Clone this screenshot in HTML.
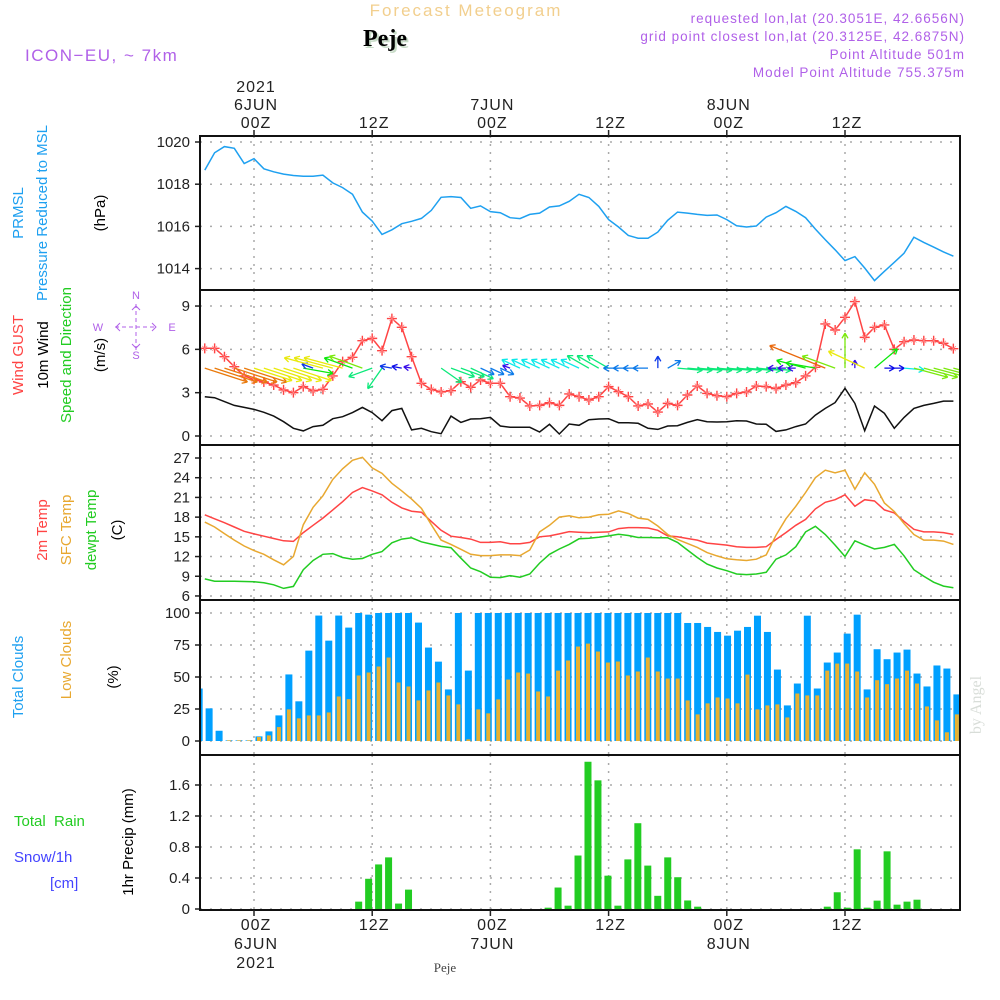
<!DOCTYPE html>
<html><head><meta charset="utf-8"><style>
body{margin:0;background:#fff;}
svg{display:block;font-family:"Liberation Sans",sans-serif;}
</style></head><body>
<svg id="chart" width="1000" height="1000" viewBox="0 0 1000 1000" xmlns="http://www.w3.org/2000/svg">
<defs><clipPath id="plotclip"><rect x="200" y="136" width="760" height="774"/></clipPath></defs>
<rect width="1000" height="1000" fill="#fff"/>
<text x="466" y="16" text-anchor="middle" font-size="17" fill="#f2cf8e" letter-spacing="2">Forecast Meteogram</text>
<text x="387" y="48" text-anchor="middle" font-size="24" font-weight="bold" font-family="Liberation Serif,serif" fill="#c8dcc8">Peje</text>
<text x="385" y="46" text-anchor="middle" font-size="24" font-weight="bold" font-family="Liberation Serif,serif" fill="#000">Peje</text>
<text x="25" y="61" font-size="17" fill="#b060e8" letter-spacing="1.5">ICON−EU, ~ 7km</text>
<g font-size="13.5" fill="#b060e8" text-anchor="end" letter-spacing="1">
<text x="965" y="23">requested lon,lat (20.3051E, 42.6656N)</text>
<text x="965" y="41">grid point closest lon,lat (20.3125E, 42.6875N)</text>
<text x="965" y="59">Point Altitude 501m</text>
<text x="965" y="77">Model Point Altitude 755.375m</text>
</g>
<g id="grid"></g>
<g id="marks" clip-path="url(#plotclip)"></g>
<g id="frames"></g>
<g id="labels"></g>
<g font-size="15">
<text transform="translate(23,213) rotate(-90)" text-anchor="middle" fill="#1ea0f0">PRMSL</text>
<text transform="translate(47,213) rotate(-90)" text-anchor="middle" fill="#1ea0f0">Pressure Reduced to MSL</text>
<text transform="translate(105,213) rotate(-90)" text-anchor="middle" fill="#000">(hPa)</text>
<text transform="translate(23,355) rotate(-90)" text-anchor="middle" fill="#ff4444">Wind GUST</text>
<text transform="translate(48,355) rotate(-90)" text-anchor="middle" fill="#000">10m Wind</text>
<text transform="translate(71,355) rotate(-90)" text-anchor="middle" fill="#22cc22">Speed and Direction</text>
<text transform="translate(105,355) rotate(-90)" text-anchor="middle" fill="#000">(m/s)</text>
<text transform="translate(47,530) rotate(-90)" text-anchor="middle" fill="#ff4444">2m Temp</text>
<text transform="translate(71,530) rotate(-90)" text-anchor="middle" fill="#e8a830">SFC Temp</text>
<text transform="translate(96,530) rotate(-90)" text-anchor="middle" fill="#22cc22">dewpt Temp</text>
<text transform="translate(122,530) rotate(-90)" text-anchor="middle" fill="#000">(C)</text>
<text transform="translate(23,677) rotate(-90)" text-anchor="middle" fill="#1ea0f0">Total Clouds</text>
<text transform="translate(71,660) rotate(-90)" text-anchor="middle" fill="#e8a830">Low Clouds</text>
<text transform="translate(118,677) rotate(-90)" text-anchor="middle" fill="#000">(%)</text>
<text x="14" y="826" fill="#22cc22" xml:space="preserve">Total  Rain</text>
<text x="14" y="862" fill="#4444ff">Snow/1h</text>
<text x="50" y="888" fill="#4444ff">[cm]</text>
<text transform="translate(133,842) rotate(-90)" text-anchor="middle" fill="#000">1hr Precip (mm)</text>
</g>
<g font-size="11" fill="#b060e8" text-anchor="middle">
<text x="136" y="299">N</text>
<text x="136" y="359">S</text>
<text x="98" y="331">W</text>
<text x="172" y="331">E</text>
<g stroke="#b060e8" stroke-width="1" fill="none">
<line x1="115" y1="327" x2="157" y2="327" stroke-dasharray="4,3"/>
<line x1="136" y1="304" x2="136" y2="350" stroke-dasharray="4,3"/>
<path d="M120,323l-4,4l4,4M152,323l4,4l-4,4M132,310l4,-4l4,4M132,344l4,4l4,-4"/>
</g>
</g>
<text transform="translate(981,705) rotate(-90)" text-anchor="middle" font-size="16" font-family="Liberation Serif,serif" fill="#d8ddd8">by Angel</text>
<text x="445" y="972" text-anchor="middle" font-size="13" font-family="Liberation Serif,serif" fill="#444">Peje</text>
<script>
const hours=[];for(let h=-5;h<=71;h++)hours.push(h);
const pressure=[1018.67,1019.49,1019.78,1019.70,1018.98,1019.21,1018.73,1018.59,1018.48,1018.41,1018.38,1018.38,1018.43,1018.06,1017.84,1017.52,1016.68,1016.25,1015.62,1015.84,1016.13,1016.24,1016.38,1016.76,1017.38,1017.41,1017.37,1016.86,1016.97,1016.70,1016.65,1016.41,1016.37,1016.57,1016.63,1016.92,1016.97,1017.19,1017.52,1017.37,1016.95,1016.32,1015.97,1015.57,1015.44,1015.44,1015.73,1016.29,1016.68,1016.63,1016.57,1016.52,1016.54,1016.32,1016.03,1015.97,1016.02,1016.44,1016.65,1016.95,1016.71,1016.41,1015.87,1015.37,1014.89,1014.38,1014.57,1014.03,1013.43,1013.87,1014.30,1014.73,1015.49,1015.24,1015.02,1014.79,1014.59];
const wind10m=[2.72,2.65,2.38,2.12,1.98,1.84,1.64,1.38,0.99,0.53,0.35,0.65,0.74,1.20,1.34,1.62,1.98,1.62,1.06,1.76,1.91,0.42,0.53,0.30,0.16,1.38,0.94,1.18,1.20,1.29,0.69,0.60,0.60,0.60,0.28,0.81,0.14,0.83,0.74,1.13,1.18,1.20,0.92,0.92,0.88,0.53,0.46,0.69,0.71,0.94,1.13,0.99,0.97,0.99,1.06,1.04,0.83,0.81,0.32,0.42,0.65,0.83,1.45,1.91,2.31,3.30,2.26,0.37,2.08,1.57,0.53,1.29,1.91,2.12,2.26,2.42,2.42];
const windGust=[6.07,6.07,5.49,4.80,4.16,3.92,3.74,3.53,3.19,3.00,3.42,3.12,3.23,4.16,5.15,5.45,6.60,6.76,5.91,8.13,7.53,5.49,3.65,3.23,3.05,3.14,3.76,3.37,3.88,3.65,3.65,2.72,2.63,2.08,2.12,2.31,2.12,2.91,2.72,2.49,2.72,3.42,3.07,2.72,2.08,2.22,1.66,2.26,2.12,2.84,3.46,2.95,2.79,2.72,2.95,3.05,3.46,3.42,3.28,3.53,3.69,4.16,4.76,7.76,7.34,8.22,9.31,6.83,7.53,7.69,6.00,6.53,6.65,6.60,6.60,6.42,6.05];
const windToDir=[18,18,18,18,18,18,18,18,18,18,10,200,195,195,195,200,200,160,125,190,190,190,0,0,35,20,20,25,25,25,25,200,205,205,205,205,205,205,205,210,210,210,180,180,180,180,270,330,5,5,5,5,5,5,5,5,5,5,180,180,180,195,190,202,200,270,270,205,320,0,0,5,15,15,15,15,15];
const windArrowMag=[45,45,45,45,45,40,40,40,40,40,30,12,40,40,40,30,35,25,25,12,10,8,0,0,25,25,25,25,15,15,15,8,20,20,20,20,20,20,20,25,25,25,15,15,15,15,12,15,25,25,25,25,25,25,25,25,25,25,8,8,8,30,30,60,35,35,8,40,30,10,10,20,35,35,35,35,35];
const temp2m=[18.35,17.75,17.15,16.5,15.85,15.45,15.1,14.75,14.4,14.3,15.65,16.75,17.85,19.1,20.35,21.75,22.5,22.0,21.4,20.25,19.4,18.9,18.75,17.35,16.0,15.1,14.9,14.65,14.15,14.15,14.25,13.95,13.95,14.15,15.0,15.15,15.45,15.8,15.7,15.65,15.7,15.75,16.25,16.4,16.4,16.35,16.0,15.15,15.0,14.75,14.5,14.05,13.9,13.75,13.5,13.4,13.4,13.5,14.6,15.65,16.75,17.65,19.25,20.25,20.65,21.4,19.65,20.65,20.45,19.1,18.65,17.35,16.15,15.75,15.75,15.65,15.35];
const tempSfc=[17.25,16.5,15.5,14.5,13.6,12.9,12.35,11.5,10.75,12.0,16.85,19.5,21.25,23.75,25.35,26.65,27.1,25.5,24.65,23.15,22.0,20.75,19.35,16.85,14.5,13.85,13.1,12.35,12.15,12.15,12.25,12.25,12.15,13.0,15.75,16.75,18.0,18.2,17.9,18.0,18.35,18.45,18.95,18.55,17.85,17.65,16.65,15.35,14.6,14.0,13.4,12.6,12.1,11.65,11.5,11.4,11.6,12.25,15.25,17.75,19.65,21.75,24.0,25.15,24.75,25.15,22.25,24.75,23.0,20.15,18.85,17.0,15.35,14.5,14.5,14.35,13.85];
const dewpoint=[8.6,8.25,8.25,8.25,8.2,8.15,8.0,7.7,7.15,7.45,10.0,11.4,12.35,12.45,11.85,11.6,11.7,12.35,12.75,14.1,14.65,14.85,14.25,13.9,13.55,13.35,11.75,10.25,9.7,8.85,8.8,9.1,8.85,9.35,11.0,12.35,13.15,13.85,14.7,14.8,14.95,15.15,15.4,15.2,14.9,14.9,14.85,14.85,14.15,13.0,11.85,10.85,10.25,9.85,9.35,9.25,9.35,9.6,11.6,12.25,13.5,15.75,16.6,15.35,13.75,12.0,14.4,13.75,13.15,13.4,13.85,12.1,10.0,9.0,8.1,7.5,7.25];
const totalClouds=[41,25.5,8,0.5,0.5,0.5,3.6,7.5,20,52,31,70.6,98,78.4,98,88.6,100,98.7,100,100,100,100,92.5,73,62,40.3,100,55,100,100,100,100,100,100,100,100,100,100,100,100,100,100,100,100,100,100,100,100,100,92.2,92.2,89.1,85.2,82.3,86.2,89.1,97.9,85.2,55.8,27.8,44.9,97.9,41,61.3,69.1,83.9,98.7,40.3,71.7,63.9,69.1,71.4,52.7,42.6,59,56.6,36.4];
const lowClouds=[0,0,0,0.5,0.5,0.5,3.1,4.4,10.9,24.7,17.7,20,20,22.3,34.8,32.7,51.2,53.5,58.2,65.2,45.7,42.6,31.7,39.5,45.7,35.6,28.6,1.3,24.7,21.6,32.5,48,53.5,52.7,38.7,34.8,55,62.9,73.8,76.1,69.9,61.3,62.1,51.2,54.3,65.2,54.3,48.8,48.8,31.7,20.8,29.4,34,33.2,29.4,51.9,24.7,27.8,28.6,18.4,37.1,35.6,35.6,55,60.5,60.5,54.3,34,47.5,44.4,48.8,55,44.9,27,16.1,6.8,20.8];
const precip=[0,0,0,0,0,0,0,0,0,0,0,0,0,0,0,0,0.095,0.39,0.575,0.666,0.07,0.25,0,0,0,0,0,0,0,0,0,0,0,0,0,0.017,0.277,0.043,0.69,1.90,1.66,0.43,0.043,0.64,1.107,0.56,0.17,0.666,0.41,0.11,0.03,0,0,0,0,0,0,0,0,0,0,0,0,0.03,0.216,0.017,0.77,0.017,0.108,0.744,0.056,0.095,0.12,0,0,0,0];
const pressureTicks=[1014,1016,1018,1020];
const windTicks=[0,3,6,9];
const tempTicks=[6,9,12,15,18,21,24,27];
const cloudTicks=[0,25,50,75,100];
const precipTicks=[0,0.4,0.8,1.2,1.6];
const timeTicks=[0,12,24,36,48,60];
const timeLabels=["00Z","12Z","00Z","12Z","00Z","12Z"];
const dayLabels=["6JUN","","7JUN","","8JUN",""];
const yearLabels=["2021","","","","",""];

const NS="http://www.w3.org/2000/svg";
const xL=h=>254+9.85*h;
const xB=h=>249+9.97*h;
const yP=v=>142+(1020-v)*21.1;
const yW=v=>436-v*14.44;
const yT=v=>458+(27-v)*6.57;
const yC=v=>741-v*1.28;
const yR=v=>909-v*77.5;
const panels=[[136,290],[290,445],[445,600],[600,755],[755,910]];
function el(tag,attrs,parent){const e=document.createElementNS(NS,tag);for(const k in attrs)e.setAttribute(k,attrs[k]);parent.appendChild(e);return e;}
const grid=document.getElementById('grid'),marks=document.getElementById('marks'),frames=document.getElementById('frames'),labels=document.getElementById('labels');
panels.forEach(p=>{timeTicks.forEach(t=>{const g=el('line',{x1:xL(t),x2:xL(t),y1:p[0],y2:p[1],stroke:'#aaa','stroke-width':1.5,'stroke-dasharray':'2,6'},grid);

});});
function hgrid(ticks,ys,fmt,name){ticks.forEach(t=>{const y=ys(t);
const g=el('line',{x1:200,x2:960,y1:y,y2:y,stroke:'#aaa','stroke-width':1.5,'stroke-dasharray':'2,8'},grid);


const tk=el('line',{x1:195,x2:200,y1:y,y2:y,stroke:'#222','stroke-width':1.5},frames);


const tx=el('text',{x:190,y:y+5,'text-anchor':'end','font-size':15,fill:'#222'},labels);


tx.textContent=fmt(t);});}
hgrid(pressureTicks,yP,t=>t,'pressure');
hgrid(windTicks,yW,t=>t,'wind');
hgrid(tempTicks,yT,t=>t,'temp');
hgrid(cloudTicks,yC,t=>t,'cloud');
hgrid(precipTicks,yR,t=>t===0?'0':t.toFixed(1),'precip');
hours.forEach((h,i)=>{const x=xB(h);
const b=el('rect',{x:x-3.5,y:yC(totalClouds[i]),width:7,height:Math.max(0,yC(0)-yC(totalClouds[i])),fill:'#00a0ff'},marks);


const o=el('rect',{x:x-2,y:yC(lowClouds[i]),width:4,height:Math.max(0,yC(0)-yC(lowClouds[i])),fill:'#e8b030'},marks);


if(precip[i]>0){const r=el('rect',{x:x-3.5,y:yR(precip[i]),width:7,height:yR(0)-yR(precip[i]),fill:'#22cc22'},marks);

}
});
function line(arr,ys,color,name){const pts=hours.map((h,i)=>xL(h).toFixed(1)+','+ys(arr[i]).toFixed(1)).join(' ');
const p=el('polyline',{points:pts,fill:'none',stroke:color,'stroke-width':1.5},marks);

}
line(pressure,yP,'#1ea0f0','pressure-line');
line(wind10m,yW,'#111','wind-10m-line');
line(windGust,yW,'#ff4444','wind-gust-line');
hours.forEach((h,i)=>{const x=xL(h),y=yW(windGust[i]);
const s=el('path',{d:`M${x-5},${y}h10M${x},${y-5}v10`,stroke:'#ff4444','stroke-width':1.4},marks);


const s2=el('path',{d:`M${x-2.5},${y-2.5}l5,5M${x-2.5},${y+2.5}l5,-5`,stroke:'#ff8888','stroke-width':0.8},marks);

});
line(dewpoint,yT,'#22cc22','dewpoint-line');
line(temp2m,yT,'#ff4444','temp-2m-line');
line(tempSfc,yT,'#e8a830','temp-sfc-line');
hours.forEach((h,i)=>{const m=windArrowMag[i];if(!m)return;const a=windToDir[i]*Math.PI/180;
const x0=xL(h),y0=yW(4.7),x1=x0+m*Math.cos(a),y1=y0+m*Math.sin(a);
const hue=Math.max(25,Math.min(275,300-6*m));const c=`hsl(${hue},90%,48%)`;
const ha=6,ax=Math.cos(a),ay=Math.sin(a);
const d=`M${x0},${y0}L${x1},${y1}M${x1},${y1}L${x1-ha*(ax*0.87-ay*0.5)},${y1-ha*(ay*0.87+ax*0.5)}M${x1},${y1}L${x1-ha*(ax*0.87+ay*0.5)},${y1-ha*(ay*0.87-ax*0.5)}`;
const ar=el('path',{d:d,stroke:c,'stroke-width':1.3,fill:'none'},marks);

});
panels.forEach(p=>{const r=el('rect',{x:200,y:p[0],width:760,height:p[1]-p[0],fill:'none',stroke:'#111','stroke-width':2},frames);

});
timeTicks.forEach((t,i)=>{const x=xL(t);
el('line',{x1:x,x2:x,y1:130,y2:136,stroke:'#222','stroke-width':1.5},frames);
el('line',{x1:x,x2:x,y1:910,y2:916,stroke:'#222','stroke-width':1.5},frames);
const add=(y,s,name)=>{if(!s)return;const tx=el('text',{x:x+2,y:y,'text-anchor':'middle','font-size':16,fill:'#222','letter-spacing':1},labels);


tx.textContent=s;};
add(128,timeLabels[i],'top-time-label');add(110,dayLabels[i],'top-day-label');add(92,yearLabels[i],'top-year-label');
add(930,timeLabels[i],'bottom-time-label');add(949,dayLabels[i],'bottom-day-label');add(968,yearLabels[i],'bottom-year-label');});
</script>
</svg>
</body></html>
